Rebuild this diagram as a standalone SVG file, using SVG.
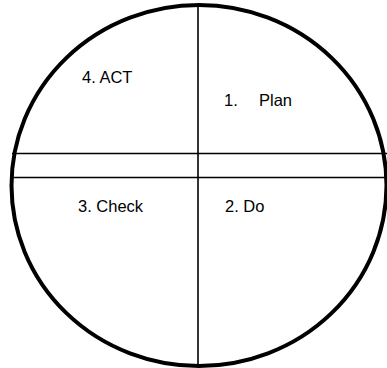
<svg xmlns="http://www.w3.org/2000/svg" width="387" height="368" viewBox="0 0 387 368">
<style>
.ln{stroke:#000;stroke-width:1.6;fill:none}
.lb{font-family:"Liberation Sans",Arial,sans-serif;font-size:16.5px;fill:#000}
</style>
<rect width="387" height="368" fill="#fff"/>
<g id="connectors">
<line class="ln" x1="198" y1="5" x2="198" y2="366"/>
<line class="ln" x1="12" y1="153.5" x2="387" y2="153.5"/>
<line class="ln" x1="11" y1="177.5" x2="387" y2="177.5"/>
</g>
<g id="circle">
<ellipse cx="199" cy="185.5" rx="187.5" ry="180.5" fill="none" stroke="#000" stroke-width="4"/>
</g>
<g id="act"><text class="lb" x="82" y="83">4. ACT</text></g>
<g id="plan"><text class="lb" x="224" y="106">1.<tspan x="259">Plan</tspan></text></g>
<g id="check"><text class="lb" x="78" y="212">3. Check</text></g>
<g id="do"><text class="lb" x="225" y="212">2. Do</text></g>
</svg>
